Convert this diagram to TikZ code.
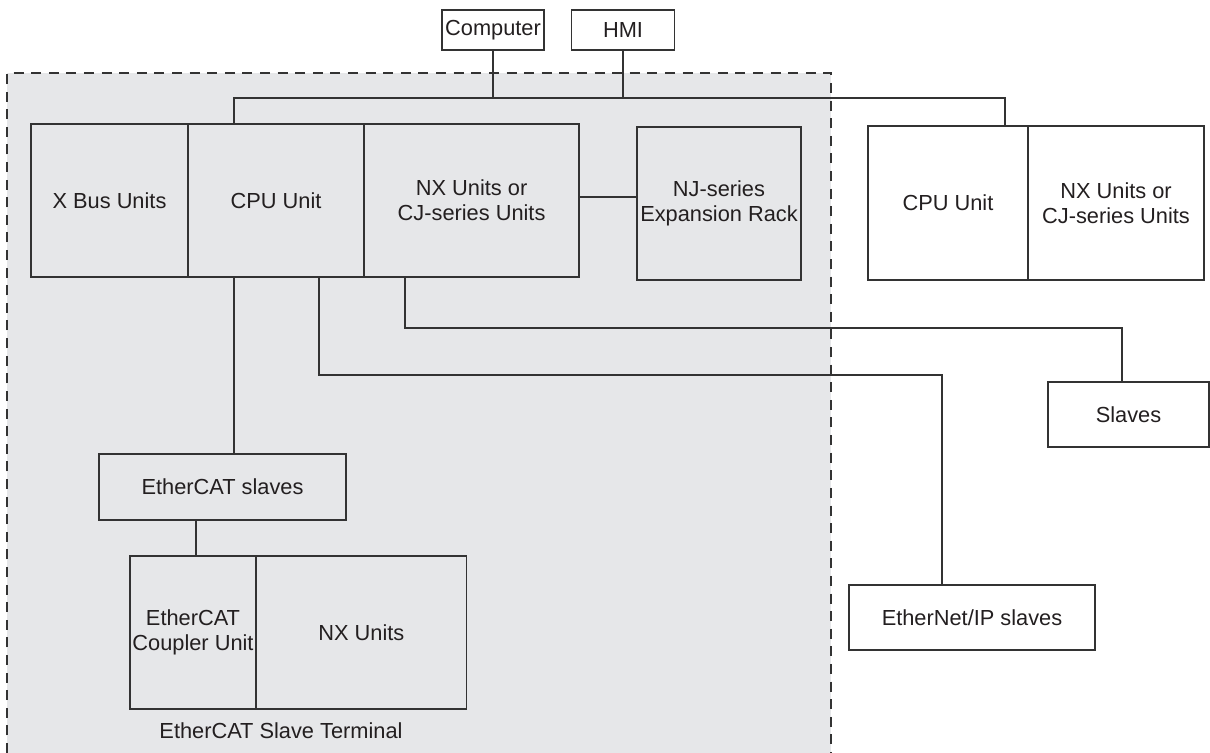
\documentclass[tikz,border=0pt]{standalone}
\usepackage{fontspec}
\setmainfont{Liberation Sans}
\usetikzlibrary{positioning}
\definecolor{panelgray}{HTML}{E6E7E9}
\definecolor{linegray}{HTML}{333333}
\definecolor{textgray}{HTML}{231F20}

\begin{document}
\begin{tikzpicture}[
  x=0.025cm, y=-0.025cm,
  every node/.style={font=\fontsize{15.5}{18}\selectfont, text=textgray},
  box/.style   = {draw=linegray, line width=1.3pt, align=center, inner sep=2pt, outer sep=0pt},
  unit/.style  = {box, minimum height=3.825cm},
  wire/.style  = {draw=linegray, line width=1.3pt},
  frame/.style = {draw=linegray, line width=1.6pt, dash pattern=on 0.25cm off 0.19cm},
]
  \useasboundingbox (0,0) rectangle (1210,753);
  % controller area
  \fill[panelgray] (7,73) rectangle (831,753);
  \draw[frame] (7,753) |- (831,73) -- (831,753);

  \node[box, minimum width=2.55cm, minimum height=1cm]  (computer) at (493,30) {Computer};
  \node[box, minimum width=2.575cm, minimum height=1cm] (hmi)      at (623,30) {HMI};

  \node[unit, minimum width=3.925cm] (xbus) at (109.5,200.5) {X Bus Units};
  \node[unit, minimum width=4.4cm, right=0pt of xbus]  (cpu)  {CPU Unit};
  \node[unit, minimum width=5.375cm, right=0pt of cpu] (nxcj) {NX Units or\\CJ-series Units};
  \node[unit, minimum width=4.1cm] (nj) at (719,203.5) {NJ-series\\Expansion Rack};

  \node[unit, minimum width=4cm, minimum height=3.85cm] (cpu2) at (948,203) {CPU Unit};
  \node[unit, minimum width=4.4cm, minimum height=3.85cm, right=0pt of cpu2] (nxcj2) {NX Units or\\CJ-series Units};

  \node[box, minimum width=4.025cm, minimum height=1.625cm] (slaves) at (1128.5,414.5) {Slaves};
  \node[box, minimum width=6.15cm, minimum height=1.625cm]  (ethip)  at (972,617.5)    {EtherNet/IP slaves};
  \node[box, minimum width=6.175cm, minimum height=1.65cm]  (ecs)    at (222.5,487)    {EtherCAT slaves};

  \node[unit, minimum width=3.15cm] (coupler) at (193,632.5) {EtherCAT\\Coupler Unit};
  \node[unit, minimum width=5.25cm, right=0pt of coupler] (nxu) {NX Units};
  \node (term) at (281,731) {EtherCAT Slave Terminal};

  % network lines
  \coordinate (busL) at (234,98);
  \coordinate (busR) at (1005,98);
  \coordinate (eipbend) at (942,375);
  \coordinate (slvbend) at (1122,328);

  \draw[wire] (busL |- cpu.north) -- (busL) -- (busR) -- (busR |- cpu2.north);
  \draw[wire] (computer) -- (computer |- busL);
  \draw[wire] (hmi) -- (hmi |- busL);
  \draw[wire] ([yshift=0.16cm]nj.west) -- ([yshift=0.16cm]nj.west -| nxcj.east);
  \draw[wire] ([xshift=-1.66cm]nxcj.south) |- (slvbend) -- (slvbend |- slaves.north);
  \draw[wire] ([xshift=1.075cm]cpu.south) |- (eipbend) -- (eipbend |- ethip.north);
  \draw[wire] (busL |- cpu.south) -- (busL |- ecs.north);
  \draw[wire] ([xshift=0.075cm]coupler.north) -- ([xshift=0.075cm]coupler.north |- ecs.south);
\end{tikzpicture}
\end{document}
